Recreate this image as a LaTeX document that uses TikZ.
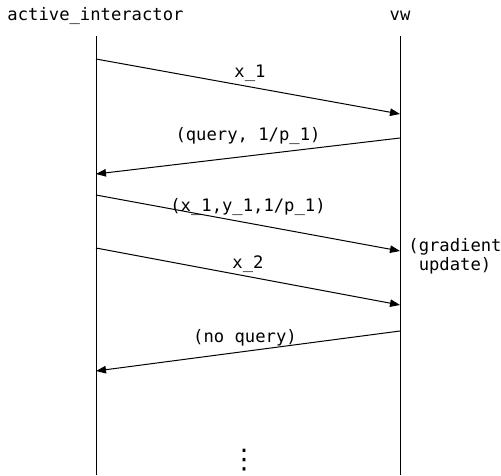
\documentclass[tikz,border=0pt]{standalone}
\usepackage{fontspec}
\setmonofont{DejaVu Sans Mono}
\newfontfamily\symfont{DejaVu Sans}
\usetikzlibrary{arrows.meta}
\tikzset{
  lbl/.style={font=\ttfamily\fontsize{17.2}{18.5}\selectfont, inner sep=0pt, anchor=center},
  life/.style={line width=1pt},
  msg/.style={line width=1pt, -{Triangle[length=10pt,width=7.5pt]}},
}
\begin{document}
\begin{tikzpicture}[x=1pt,y=-1pt]
\useasboundingbox (0,0) rectangle (501,475);
% headers
\node[lbl] (hA) at (95.5,16) {active\_interactor};
\node[lbl] (hB) at (400,16) {vw};
% lifelines
\coordinate (At) at (96,36);
\coordinate (Ab) at (96,475);
\coordinate (Bt) at (400,36);
\coordinate (Bb) at (400,475);
\draw[life] (At) -- (Ab);
\draw[life] (Bt) -- (Bb);
% message endpoints
\coordinate (a1) at (96,59);  \coordinate (b1) at (400,114);
\coordinate (b2) at (400,138); \coordinate (a2) at (96,174);
\coordinate (a3) at (96,195); \coordinate (b3) at (400,251);
\coordinate (a4) at (96,248); \coordinate (b4) at (400,305);
\coordinate (b5) at (400,331); \coordinate (a5) at (96,371);
\draw[msg] (a1) -- (b1);
\draw[msg] (b2) -- (a2);
\draw[msg] (a3) -- (b3);
\draw[msg] (a4) -- (b4);
\draw[msg] (b5) -- (a5);
% labels
\node[lbl] (l1) at (250,73) {x\_1};
\node[lbl] (l2) at (248,136) {(query, 1/p\_1)};
\node[lbl] (l3) at (248,207) {(x\_1,y\_1,1/p\_1)};
\node[lbl] (l4) at (248,264) {x\_2};
\node[lbl] (l5) at (245,338) {(no query)};
\node[lbl, align=center] (gu) at (455,256) {(gradient\\update)};
\node[font=\symfont\fontsize{27}{29}\selectfont, inner sep=0pt] (dots) at (244,460) {⋮};
\end{tikzpicture}
\end{document}
